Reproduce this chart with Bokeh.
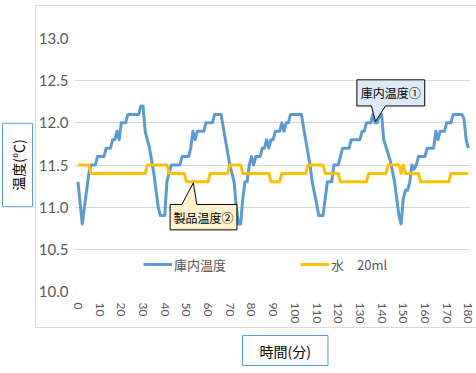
from bokeh.plotting import figure
from bokeh.models import (Range1d, FixedTicker, Legend, LegendItem, NumeralTickFormatter,
                          Title, InlineStyleSheet)
from bokeh.core.properties import value
from bokeh.embed import file_html
from bokeh.resources import INLINE

# ---- data ----
x_ticks = list(range(0, 181, 10))
y_ticks = [10.0, 10.5, 11.0, 11.5, 12.0, 12.5, 13.0]

chamber_t = [0, 2, 3, 4, 5, 6, 8, 9, 12, 13, 15, 16, 17, 18, 19, 20, 22, 23, 28, 29, 30,
             31, 33, 35, 37, 38, 40, 41, 42, 43, 47, 48, 51, 52, 53, 54, 55, 58, 59, 62,
             63, 66, 68, 70, 72, 73, 74, 75, 76, 77, 78, 79, 80, 81, 82, 84, 85, 86, 87,
             88, 89, 90, 91, 93, 94, 95, 96, 97, 98, 103, 105, 107, 108, 110, 111, 113,
             114, 115, 117, 118, 120, 121, 122, 125, 126, 130, 131, 132, 133, 135, 136,
             137, 138, 139, 140, 141, 144, 146, 147, 148, 149, 150, 151, 152, 153, 154,
             155, 156, 157, 160, 161, 164, 165, 166, 167, 169, 170, 172, 173, 177, 178,
             179, 180]
chamber_v = [11.3, 10.8, 11.0, 11.2, 11.4, 11.5, 11.5, 11.6, 11.6, 11.7, 11.7, 11.8, 11.8,
             11.9, 11.8, 12.0, 12.0, 12.1, 12.1, 12.2, 12.2,
             11.9, 11.7, 11.4, 11.0, 10.9, 10.9, 11.3, 11.4, 11.5, 11.5, 11.6, 11.6, 11.7,
             11.9, 11.8, 11.9, 11.9, 12.0, 12.0,
             12.1, 12.1, 11.8, 11.5, 11.3, 11.0, 10.8, 10.8, 11.1, 11.3, 11.3, 11.5, 11.6,
             11.5, 11.6, 11.6, 11.7, 11.7, 11.8,
             11.7, 11.8, 11.8, 11.9, 11.9, 12.0, 11.9, 12.0, 12.0, 12.1, 12.1, 11.8, 11.5,
             11.3, 11.05, 10.9, 10.9,
             11.1, 11.3, 11.3, 11.5, 11.5, 11.6, 11.7, 11.7, 11.8, 11.8, 11.9, 11.9, 12.0,
             12.0, 12.1,
             12.0, 12.0, 12.1, 12.1, 11.8, 11.55, 11.3, 11.1, 10.9, 10.8, 11.1, 11.2, 11.2,
             11.3, 11.5,
             11.45, 11.5, 11.6, 11.6, 11.7, 11.7, 11.9, 11.8, 11.9, 11.9, 12.0, 12.0, 12.1,
             12.1, 12.05,
             11.8, 11.7]

water_t = [0, 5, 6, 31, 32, 41, 42, 49, 50, 60, 61, 69, 70, 75, 76, 88, 89, 93, 94, 105,
           106, 113, 114, 120, 121, 133, 134, 142, 143, 148, 149, 150, 151, 157, 158, 171,
           172, 180]
water_v = [11.5, 11.5, 11.4, 11.4, 11.5, 11.5, 11.4, 11.4, 11.3, 11.3, 11.4, 11.4, 11.5,
           11.5, 11.4, 11.4, 11.3, 11.3, 11.4, 11.4, 11.5, 11.5, 11.4, 11.4, 11.3, 11.3,
           11.4, 11.4, 11.5, 11.5, 11.4, 11.5, 11.4, 11.4, 11.3, 11.3, 11.4, 11.4]

series_names = ["庫内温度", "水　20ml"]
callout_texts = ["庫内温度①", "製品温度②"]
x_title = "時間(分)"
y_title = "温度(℃)"

JP = "Noto Sans CJK JP"

# ---- figure ----
p = figure(width=476, height=373, output_backend="svg", toolbar_location=None,
           x_range=Range1d(-1.6, 181.0), y_range=Range1d(10.0, 13.0),
           min_border_left=74, min_border_right=6, min_border_top=38,
           min_border_bottom=82)
p.outline_line_color = None
p.background_fill_color = "white"
p.border_fill_color = "white"
p.stylesheets = [InlineStyleSheet(css=(
    ":host::after{content:'';position:absolute;left:35px;top:5px;width:441px;"
    "height:321px;border:1px solid #D9D9D9;border-right:none;pointer-events:none;}"))]

p.xgrid.grid_line_color = None
p.ygrid.grid_line_color = "#D9D9D9"
p.ygrid.grid_line_width = 1

p.yaxis.ticker = FixedTicker(ticks=y_ticks)
p.yaxis.formatter = NumeralTickFormatter(format="0.0")
p.xaxis.ticker = FixedTicker(ticks=x_ticks)
for ax in (p.xaxis[0], p.yaxis[0]):
    ax.axis_line_color = None
    ax.major_tick_line_color = None
    ax.minor_tick_line_color = None
    ax.major_tick_out = 0
    ax.major_tick_in = 0
    ax.major_label_text_color = "#595959"
    ax.major_label_text_font = "Lato"
p.yaxis.major_label_text_font_size = "15px"
p.yaxis.major_label_standoff = 6
p.xaxis.major_label_text_font_size = "12px"
p.xaxis.major_label_orientation = "vertical"
p.xaxis.major_label_standoff = 11

r1 = p.line(chamber_t, chamber_v, line_color="#5B9BD5", line_width=3, line_join="round")
r2 = p.line(water_t, water_v, line_color="#FFC000", line_width=3, line_join="round")

legend = Legend(items=[LegendItem(label=series_names[0], renderers=[r1]),
                       LegendItem(label=series_names[1], renderers=[r2])],
                orientation="horizontal", location=(69, 17), padding=0, margin=0,
                spacing=74, glyph_width=29, glyph_height=20, label_height=20,
                label_standoff=2, border_line_color=None, background_fill_alpha=0,
                label_text_font=JP, label_text_font_size="13px",
                label_text_color="#595959")
p.add_layout(legend)

# ---- callouts ----
c1x = [128.6, 159.9, 159.9, 141.8, 137.2, 135.3, 128.6]
c1y = [12.51, 12.51, 12.20, 12.20, 12.016, 12.20, 12.20]
p.patch(c1x, c1y, fill_color="#DEEBF7", line_color="black", line_width=1)
p.text(x=[144.25], y=[12.356], text=[callout_texts[0]], text_align="center",
       text_baseline="middle", text_font=value(JP), text_font_size="12px",
       text_color="black")

c2x = [42.5, 47.9, 53.2, 54.8, 73.3, 73.3, 42.5]
c2y = [11.032, 11.032, 11.289, 11.032, 11.032, 10.731, 10.731]
p.patch(c2x, c2y, fill_color="#FFF2CC", line_color="black", line_width=1)
p.text(x=[57.9], y=[10.88], text=[callout_texts[1]], text_align="center",
       text_baseline="middle", text_font=value(JP), text_font_size="12px",
       text_color="black")

# ---- boxed axis titles ----
def boxed_title(text, pad, align, offset, standoff):
    kw = dict(text=text, align=align, offset=offset, standoff=standoff, text_font=JP,
              text_font_size="14px", text_font_style="normal", text_color="black",
              background_fill_color="white", border_line_color="#5B9BD5",
              border_line_width=1)
    try:
        return Title(padding=pad, **kw)
    except Exception:
        return Title(**kw)

p.add_layout(boxed_title("\u3000" + y_title + "\u3000",
                         dict(top=5, bottom=5, left=2, right=2), "center", -2, 6), "left")
p.add_layout(boxed_title(x_title, dict(top=5, bottom=5, left=17, right=17),
                         "left", 168, 14), "below")

open("out.html", "w").write(file_html(p, INLINE))
